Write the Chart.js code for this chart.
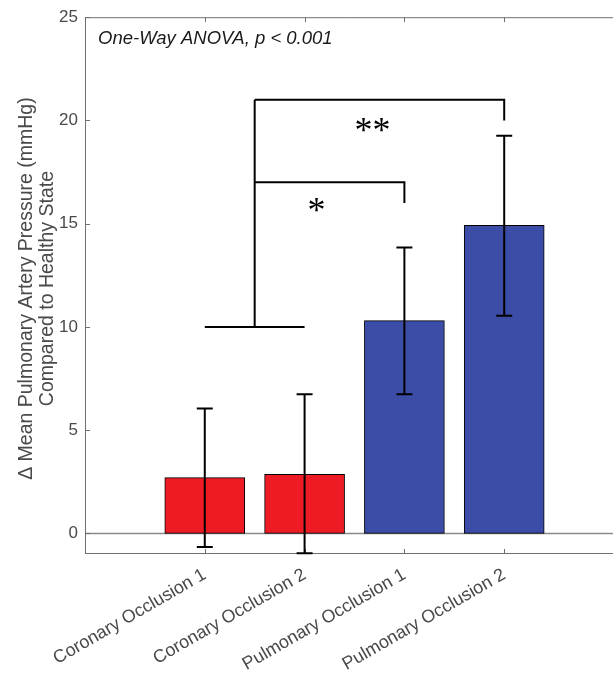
<!DOCTYPE html>
<html>
<head>
<meta charset="utf-8">
<script src="https://cdn.jsdelivr.net/npm/chart.js@4.4.0/dist/chart.umd.min.js"></script>
<style>
html,body{margin:0;padding:0;background:#fff;}
#wrap{width:613px;height:673px;position:relative;}
</style>
</head>
<body>
<div id="wrap"><canvas id="c" width="613" height="673"></canvas></div>
<script>
// ---- data ----
const categories = ['Coronary Occlusion 1','Coronary Occlusion 2','Pulmonary Occlusion 1','Pulmonary Occlusion 2'];
const positions = [1,2,3,4];
const means = [2.70, 2.86, 10.30, 14.92];
const errLow = [-0.66, -0.96, 6.74, 10.54];
const errHigh = [6.05, 6.74, 13.84, 19.26];
const barColors = ['#ED1C24','#ED1C24','#3C4DA8','#3C4DA8'];
const yTicks = [0,5,10,15,20,25];
// significance brackets
const baseBracket = {from:1, to:2, y:10, stem:1.5};
const brackets = [
  {to:3, y:17, drop:16, label:'*', labelX:2.12, labelY:15.9},
  {to:4, y:21, drop:20, label:'**', labelX:2.68, labelY:19.8}
];
const anovaText = 'One-Way ANOVA, p < 0.001';

const FONT = '"Liberation Sans", Arial, Helvetica, sans-serif';
const axisColor = '#6e6e6e';
const textColor = '#4a4a4a';

const decor = {
  id:'decor',
  beforeDatasetsDraw(chart){
    const {ctx, chartArea:a, scales:{x,y}} = chart;
    ctx.save();
    ctx.strokeStyle = '#8a8a8a'; ctx.lineWidth = 1.5;
    const y0 = Math.round(y.getPixelForValue(0))+0.5;
    ctx.beginPath(); ctx.moveTo(a.left, y0); ctx.lineTo(a.right, y0); ctx.stroke();
    ctx.restore();
  },
  afterDatasetsDraw(chart){
    const {ctx, chartArea:a, scales:{x,y}} = chart;
    ctx.save();
    // axes box (left, top, bottom)
    ctx.strokeStyle = axisColor; ctx.lineWidth = 1;
    ctx.beginPath();
    ctx.moveTo(a.left+0.5, a.bottom); ctx.lineTo(a.left+0.5, a.top+0.5); ctx.lineTo(a.right, a.top+0.5);
    ctx.moveTo(a.left, a.bottom-0.5); ctx.lineTo(a.right, a.bottom-0.5);
    ctx.stroke();
    // inward tick marks
    ctx.beginPath();
    yTicks.forEach(v=>{const py=Math.round(y.getPixelForValue(v))+0.5; ctx.moveTo(a.left, py); ctx.lineTo(a.left+5, py);});
    positions.forEach(v=>{const px=Math.round(x.getPixelForValue(v))+0.5;
      ctx.moveTo(px, a.top); ctx.lineTo(px, a.top+5);
      ctx.moveTo(px, a.bottom); ctx.lineTo(px, a.bottom-5);});
    ctx.stroke();
    // error bars
    ctx.strokeStyle = '#000'; ctx.lineWidth = 2;
    positions.forEach((p,i)=>{
      const px = x.getPixelForValue(p);
      const yl = y.getPixelForValue(errLow[i]), yh = y.getPixelForValue(errHigh[i]);
      ctx.beginPath();
      ctx.moveTo(px, yl); ctx.lineTo(px, yh);
      ctx.moveTo(px-8, yl); ctx.lineTo(px+8, yl);
      ctx.moveTo(px-8, yh); ctx.lineTo(px+8, yh);
      ctx.stroke();
    });
    // brackets
    ctx.lineWidth = 2;
    const bx1 = x.getPixelForValue(baseBracket.from), bx2 = x.getPixelForValue(baseBracket.to);
    const by = y.getPixelForValue(baseBracket.y);
    const sx = x.getPixelForValue(baseBracket.stem);
    const topY = Math.max(...brackets.map(b=>b.y));
    ctx.beginPath();
    ctx.moveTo(bx1, by); ctx.lineTo(bx2, by);
    ctx.moveTo(sx, by); ctx.lineTo(sx, y.getPixelForValue(topY));
    brackets.forEach(b=>{
      const yy = y.getPixelForValue(b.y);
      const tx = x.getPixelForValue(b.to);
      ctx.moveTo(sx, yy); ctx.lineTo(tx, yy); ctx.lineTo(tx, y.getPixelForValue(b.drop));
    });
    ctx.stroke();
    // asterisks
    ctx.fillStyle = '#000';
    ctx.font = '36px "Liberation Serif", "Times New Roman", serif';
    ctx.textAlign = 'center'; ctx.textBaseline = 'alphabetic';
    brackets.forEach(b=>{
      ctx.fillText(b.label, x.getPixelForValue(b.labelX), y.getPixelForValue(b.labelY)+17);
    });
    // ANOVA text
    ctx.fillStyle = '#1a1a1a';
    ctx.font = 'italic 18.5px ' + FONT;
    ctx.textAlign = 'left'; ctx.textBaseline = 'middle';
    ctx.fillText(anovaText, a.left+13, a.top+22);
    // y title
    ctx.fillStyle = textColor;
    ctx.font = '19.5px ' + FONT;
    ctx.textAlign = 'center'; ctx.textBaseline = 'middle';
    const cy = (a.top+a.bottom)/2;
    ctx.save(); ctx.translate(27, cy+3); ctx.rotate(-Math.PI/2);
    ctx.fillText('\u0394 Mean Pulmonary Artery Pressure (mmHg)', 0, 0); ctx.restore();
    ctx.save(); ctx.translate(48, cy+3); ctx.rotate(-Math.PI/2);
    ctx.fillText('Compared to Healthy State', 0, 0); ctx.restore();
    ctx.restore();
  }
};

new Chart(document.getElementById('c'), {
  type:'bar',
  data:{
    datasets:[{
      data: positions.map((p,i)=>({x:p, y:means[i]})),
      backgroundColor: barColors,
      borderColor:'#000',
      borderWidth:1,
      borderSkipped:false,
      barThickness:80
    }]
  },
  options:{
    responsive:false,
    animation:false,
    events:[],
    layout:{padding:{top:15,right:0,left:0,bottom:0}},
    plugins:{legend:{display:false}, tooltip:{enabled:false}},
    scales:{
      x:{
        type:'linear', min:-0.2, max:5.09, offset:false,
        afterBuildTicks(s){ s.ticks = positions.map(v=>({value:v})); },
        afterFit(s){ s.height = 119; },
        border:{display:false},
        grid:{display:false, drawTicks:false},
        ticks:{
          autoSkip:false, minRotation:30, maxRotation:30, padding:10,
          color:textColor, font:{family:FONT, size:18},
          callback:(v)=>categories[positions.indexOf(v)] ?? ''
        }
      },
      y:{
        type:'linear', min:-1, max:25,
        afterBuildTicks(s){ s.ticks = yTicks.map(v=>({value:v})); },
        afterFit(s){ s.width = 85; },
        border:{display:false},
        grid:{display:false, drawTicks:false},
        ticks:{padding:7, color:textColor, font:{family:FONT, size:17}}
      }
    }
  },
  plugins:[decor]
});
</script>
</body>
</html>
